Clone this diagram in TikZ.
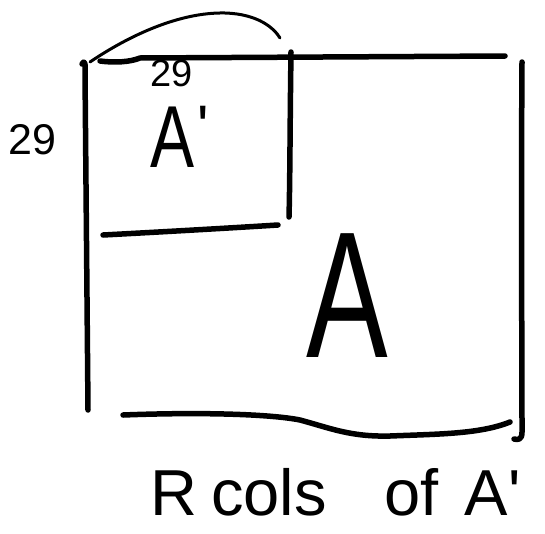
\documentclass[tikz,border=0pt]{standalone}
\usepackage{fontspec}
\setmainfont{Liberation Sans}
\newcommand{\fs}[1]{\fontsize{#1}{#1}\selectfont}
\begin{document}
\begin{tikzpicture}[x=1pt,y=-1pt,
  ink/.style={line width=5.5pt,line cap=round,line join=round},
  thinink/.style={line width=3pt,line cap=round,line join=round},
  lbl/.style={inner sep=0pt,anchor=base west}]
\useasboundingbox[fill=white] (0,0) rectangle (545,533);

% outer matrix A
\draw[ink] (82,64) .. controls (84,60) and (86,62) .. (85,72) -- (88,410);
\draw[ink] (100,61) .. controls (115,63) and (130,62) .. (140,58) -- (505,56);
\draw[ink] (522,62) .. controls (521,200) and (522,360) .. (522,432)
  .. controls (522,440) and (518,440) .. (514,439);
\draw[ink] (123,415) .. controls (200,412) and (270,414) .. (300,420)
  .. controls (330,428) and (350,437) .. (390,436)
  .. controls (440,434) and (480,434) .. (510,422);

% leading block A'
\draw[ink] (291,52) .. controls (290,120) and (290,180) .. (289,217);
\draw[ink] (103,235) .. controls (160,232) and (230,228) .. (278,225);

% arc over the leading columns
\draw[thinink] (90,62) .. controls (130,35) and (180,12) .. (225,13)
  .. controls (258,14) and (274,28) .. (280,38);

% labels
\node[lbl] (rows) at (8,154) {\fs{43}29};
\node[lbl] (cols) at (150,86) {\fs{38}29};
\node[lbl] (sub) at (150,167) {\fs{88}\scalebox{0.75}[1]{A}\hspace{3pt}\raisebox{0.22em}{\fs{60}\textquotesingle}};
\node[lbl] (big) at (306,357) {\fs{180}\scalebox{0.68}[1]{A}};
\node[lbl] (note) at (150,515) {\fs{65}R\hspace{14pt}cols\hspace{58pt}of\hspace{26pt}A\textquotesingle};
\end{tikzpicture}
\end{document}
